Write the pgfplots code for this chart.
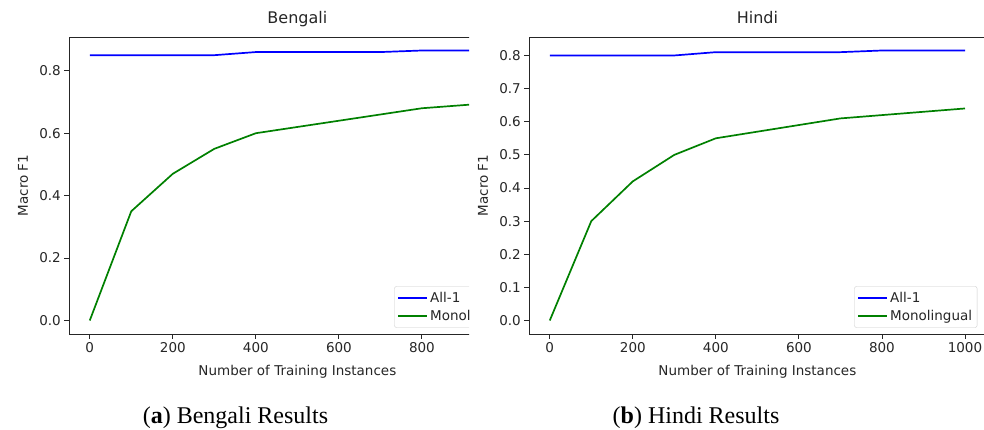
\documentclass[border=0pt]{standalone}
\usepackage{pgfplots}
\pgfplotsset{compat=1.18}
\usepackage{fontspec}
\setmainfont{DejaVu Sans}
\newfontfamily\capfont{Liberation Serif}
\definecolor{mplblue}{rgb}{0,0,1}
\definecolor{mplgreen}{rgb}{0,0.5,0}
\definecolor{axgray}{gray}{0.15}

\pgfplotsset{
 mpl/.style={
  scale only axis, width=456.75pt, height=297pt,
  xmin=-50, xmax=1050, xtick={0,200,...,1000},
  axis line style={line width=0.9pt, black!85},
  tick align=outside, tick pos=left, major tick length=4.7pt,
  every tick/.style={line width=0.9pt, black!85},
  tick label style={font=\fontsize{13.5}{16}\selectfont, text=axgray, /pgf/number format/assume math mode=true},
  xticklabel style={/pgf/number format/1000 sep={}},
  yticklabel style={/pgf/number format/.cd, fixed, fixed zerofill, precision=1, assume math mode=true},
  label style={font=\fontsize{13.5}{16}\selectfont, text=axgray},
  xlabel style={at={(axis description cs:0.5,-0.1414)}, anchor=base},
  ylabel style={at={(axis description cs:-0.1007,0.5)}, anchor=center},
  title style={at={(axis description cs:0.5,1.0269)}, anchor=base, font=\fontsize{16}{19}\selectfont, text=axgray},
  xlabel={Number of Training Instances}, ylabel={Macro F1},
  legend style={at={(0.9815,0.0212)}, anchor=south east, draw=black!20, rounded corners=2pt, fill=white, font=\fontsize{13.5}{16}\selectfont, text=axgray, inner xsep=3pt, inner ysep=3.5pt, row sep=2.5pt},
  legend cell align=left,
  legend image code/.code={\draw[#1] (0pt,0pt) -- (29pt,0pt);},
  every axis plot/.append style={line width=1.7pt},
 }
}

\begin{document}
\begin{tikzpicture}
\useasboundingbox (0,0) rectangle (984pt,430pt);
\begin{scope}
\clip (0pt,0pt) rectangle (469pt,430pt);
\begin{axis}[mpl, at={(69pt,96pt)}, anchor=south west,
  ymin=-0.04325, ymax=0.90825, ytick={0,0.2,0.4,0.6,0.8}, title={Bengali}]
\addplot[mplblue] coordinates {(0,0.85) (100,0.85) (200,0.85) (300,0.85) (400,0.86) (500,0.86) (600,0.86) (700,0.86) (800,0.865) (900,0.865) (1000,0.865)};
\addlegendentry{All-1}
\addplot[mplgreen] coordinates {(0,0) (100,0.35) (200,0.47) (300,0.55) (400,0.60) (500,0.62) (600,0.64) (700,0.66) (800,0.68) (900,0.69) (1000,0.70)};
\addlegendentry{Monolingual}
\end{axis}
\end{scope}
\begin{axis}[mpl, at={(529pt,96pt)}, anchor=south west,
  ymin=-0.04075, ymax=0.85575, ytick={0,0.1,0.2,0.3,0.4,0.5,0.6,0.7,0.8}, title={Hindi}]
\addplot[mplblue] coordinates {(0,0.80) (100,0.80) (200,0.80) (300,0.80) (400,0.81) (500,0.81) (600,0.81) (700,0.81) (800,0.815) (900,0.815) (1000,0.815)};
\addlegendentry{All-1}
\addplot[mplgreen] coordinates {(0,0) (100,0.30) (200,0.42) (300,0.50) (400,0.55) (500,0.57) (600,0.59) (700,0.61) (800,0.62) (900,0.63) (1000,0.64)};
\addlegendentry{Monolingual}
\end{axis}
\node[anchor=base, font=\capfont\fontsize{24}{28}\selectfont] at (235.5pt,6pt) {(\textbf{a}) Bengali Results};
\node[anchor=base, font=\capfont\fontsize{24}{28}\selectfont] at (696pt,6pt) {(\textbf{b}) Hindi Results};
\end{tikzpicture}
\end{document}
